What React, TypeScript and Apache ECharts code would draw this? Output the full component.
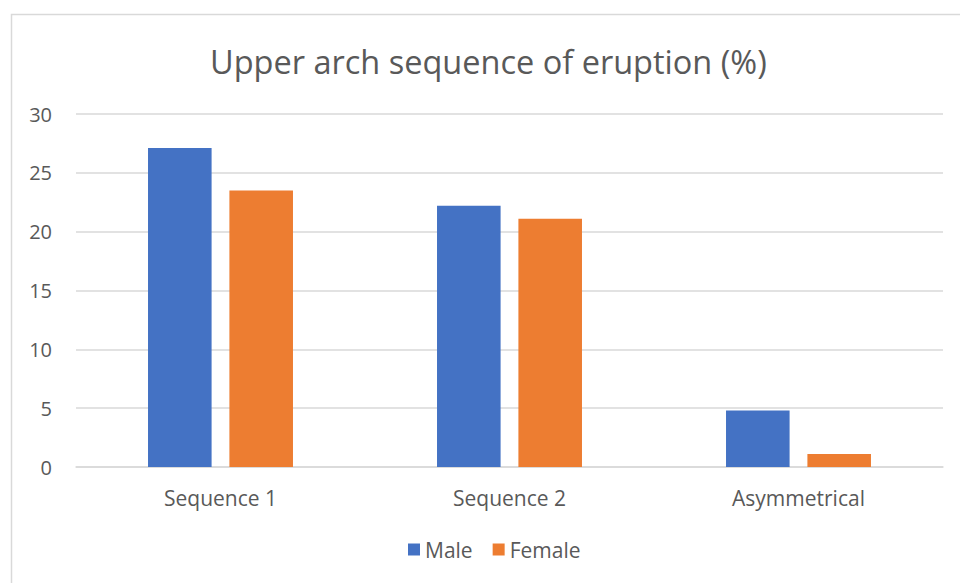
import React, { useEffect, useRef } from "react";
import * as echarts from "echarts";

const categories = ["Sequence 1", "Sequence 2", "Asymmetrical"];
const male = [27.1, 22.2, 4.8];
const female = [23.5, 21.1, 1.1];
const seriesNames = ["Male", "Female"];

export default function App() {
  const ref = useRef<HTMLDivElement>(null);
  useEffect(() => {
    const chart = echarts.init(ref.current!, null, { renderer: "svg" });
    const font = "'Open Sans', 'Noto Sans', sans-serif";
    chart.setOption({
      animation: false,
      backgroundColor: "#ffffff",
      textStyle: { fontFamily: font },
      title: {
        text: "Upper arch sequence of eruption (%)",
        left: 205,
        top: 40,
        textStyle: { fontSize: 32.5, fontWeight: "normal", color: "#595959", fontFamily: font },
      },
      graphic: [
        {
          type: "rect",
          shape: { x: 11.5, y: 14.5, width: 1000, height: 1000 },
          style: { fill: "none", stroke: "#d9d9d9", lineWidth: 1.5 },
          silent: true,
        },
      ],
      legend: {
        data: seriesNames,
        bottom: 18,
        left: 403,
        itemWidth: 12,
        itemHeight: 12,
        itemGap: 20,
        icon: "rect",
        textStyle: { fontSize: 21, color: "#595959", fontFamily: font },
      },
      grid: { left: 76, right: 17, top: 114, bottom: 116 },
      xAxis: {
        type: "category",
        data: categories,
        axisLine: { lineStyle: { color: "#d9d9d9", width: 1.5 } },
        axisTick: { show: false },
        axisLabel: { fontSize: 21, color: "#595959", margin: 20, fontFamily: font },
      },
      yAxis: {
        type: "value",
        min: 0,
        max: 30,
        interval: 5,
        axisLine: { show: false },
        axisTick: { show: false },
        splitLine: { lineStyle: { color: "#d9d9d9", width: 1.5 } },
        axisLabel: { fontSize: 20, color: "#595959", margin: 24, fontFamily: font },
      },
      series: [
        {
          name: "Male",
          type: "bar",
          data: male,
          barWidth: "22%",
          barGap: "28%",
          itemStyle: { color: "#4472c4" },
        },
        {
          name: "Female",
          type: "bar",
          data: female,
          barWidth: "22%",
          itemStyle: { color: "#ed7d31" },
        },
      ],
    });
    return () => chart.dispose();
  }, []);
  return (
    <div
      ref={ref}
      style={{ position: "fixed", left: 0, top: 0, width: 960, height: 583 }}
    />
  );
}
